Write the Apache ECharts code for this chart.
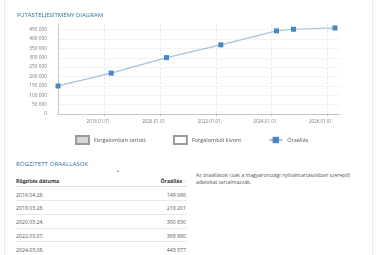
<!DOCTYPE html>
<html><head><meta charset="utf-8">
<script src="https://cdn.jsdelivr.net/npm/echarts@6/dist/echarts.min.js"></script>
<style>
html,body{margin:0;padding:0;background:#fff;width:382px;height:255px;overflow:hidden;font-family:"Open Sans",sans-serif;}
#card{position:absolute;left:4px;top:-1px;width:369px;height:260px;border:1px solid #ececec;box-sizing:border-box;}
#chart{position:absolute;left:0;top:0;width:382px;height:150px;}
.h{position:absolute;color:#2f6f93;font-size:6px;letter-spacing:0.1px;}
.t{position:absolute;font-size:5.2px;color:#555;white-space:nowrap;}
.hd{font-weight:bold;color:#333;}
.line{position:absolute;left:16px;width:171px;height:1px;background:#e8e8e8;}
</style></head>
<body>
<div id="card"></div>
<div id="chart"></div>
<div class="h" style="left:16px;top:160px;">RÖGZÍTETT ÓRAÁLLÁSOK</div>
<div id="table"></div>
<div class="t" style="left:196px;top:172px;line-height:6.5px;font-size:5.2px;">Az óraállások csak a magyarországi nyilvántartásokban szereplő<br>adatokat tartalmazzák.</div>
<script>
// ---- data ----
const pointDates = ['2016-04-28','2018-03-28','2020-03-24','2022-03-07','2024-03-08','2024-10-17','2026-04-15'];
const odometer = [149686, 218201, 300830, 368880, 443377, 452000, 459000];
const xTickDates = ['2018-01-01','2020-01-01','2022-01-01','2024-01-01','2026-01-01'];
const yTickValues = [0,50000,100000,150000,200000,250000,300000,350000,400000,450000];
const legendNames = ['Forgalomban tartott','Forgalomból kivont','Óraállás'];
const tableDates = ['2016.04.28.','2018.03.28.','2020.03.24.','2022.03.07.','2024.03.08.'];
const tableValues = [149686, 218201, 300830, 368880, 443377];

function ts(s){const p=s.split('-').map(Number);return Date.UTC(p[0],p[1]-1,p[2]);}
function pad(n){return (n<10?'0':'')+n;}
function fmtDate(v){const d=new Date(v);return d.getUTCFullYear()+'.'+pad(d.getUTCMonth()+1)+'.'+pad(d.getUTCDate())+'.';}
function fmtNum(v){return String(Math.round(v)).replace(/\B(?=(\d{3})+(?!\d))/g,' ');}

// ---- table ----
let html='';
html+='<div class="t hd" style="left:16px;top:177px;">Rögzítés dátuma</div>';
html+='<div class="t" style="left:116px;top:168px;color:#999;font-size:4px;">▲</div>';
html+='<div class="t hd" style="right:196px;top:177px;">Óraállás <span style="color:#bbb;font-weight:normal">↑</span></div>';
html+='<div class="line" style="top:186px;background:#ddd"></div>';
for(let i=0;i<tableDates.length;i++){
  const y=190.5+i*13.8;
  html+='<div class="t" style="left:16px;top:'+y+'px;">'+tableDates[i]+'</div>';
  html+='<div class="t" style="right:196px;top:'+y+'px;">'+fmtNum(tableValues[i])+'</div>';
  if(i<tableDates.length-1) html+='<div class="line" style="top:'+(y+9.5)+'px;"></div>';
}
document.getElementById('table').innerHTML=html;

// ---- chart ----
const chart=echarts.init(document.getElementById('chart'),null,{renderer:'canvas'});
const xt = xTickDates.map(ts);
chart.setOption({
  animation:false,
  title:{text:'FUTÁSTELJESÍTMÉNY DIAGRAM',left:12,top:7,textStyle:{fontFamily:'Open Sans',fontSize:6,fontWeight:'normal',color:'#2f6f93'}},
  grid:{left:58,right:42,top:24,bottom:36,containLabel:false},
  legend:{left:70,top:130,itemWidth:13,itemHeight:8,itemGap:27,
    textStyle:{fontFamily:'Open Sans',fontSize:5.5,color:'#555'},
    data:[{name:legendNames[0],icon:'rect'},{name:legendNames[1],icon:'rect'},{name:legendNames[2]}]},
  xAxis:{type:'value',min:ts('2016-04-28'),max:ts('2026-06-20'),
    axisLine:{lineStyle:{color:'#c8c8c8'}},
    axisTick:{show:true,length:2,customValues:xt,lineStyle:{color:'#bbb'}},
    axisLabel:{customValues:xt,formatter:fmtDate,fontFamily:'Open Sans',fontSize:4.5,color:'#777',margin:5,padding:[0,12,0,0]},
    splitLine:{show:true,lineStyle:{type:'dashed',color:'#e6e6e6',width:0.8}}},
  yAxis:{type:'value',min:0,max:480000,
    axisLine:{show:true,lineStyle:{color:'#c8c8c8'}},
    axisTick:{show:false,customValues:yTickValues},
    axisLabel:{customValues:yTickValues,formatter:fmtNum,fontFamily:'Open Sans',fontSize:4.8,color:'#777',margin:11},
    splitLine:{show:true,lineStyle:{type:'dotted',color:'#e2e2e2',width:0.8}}},
  series:[
    {name:legendNames[0],type:'bar',data:[],itemStyle:{color:'#d6d6d6',borderColor:'#9a9a9a',borderWidth:1}},
    {name:legendNames[1],type:'bar',data:[],itemStyle:{color:'#ffffff',borderColor:'#9a9a9a',borderWidth:1}},
    {name:legendNames[2],type:'line',clip:false,data:pointDates.map((d,i)=>[ts(d),odometer[i]]),
      symbol:'rect',symbolSize:5,lineStyle:{color:'#a3c3df',width:1.2},itemStyle:{color:'#4a86c0'}}
  ]
});
</script>
</body></html>
